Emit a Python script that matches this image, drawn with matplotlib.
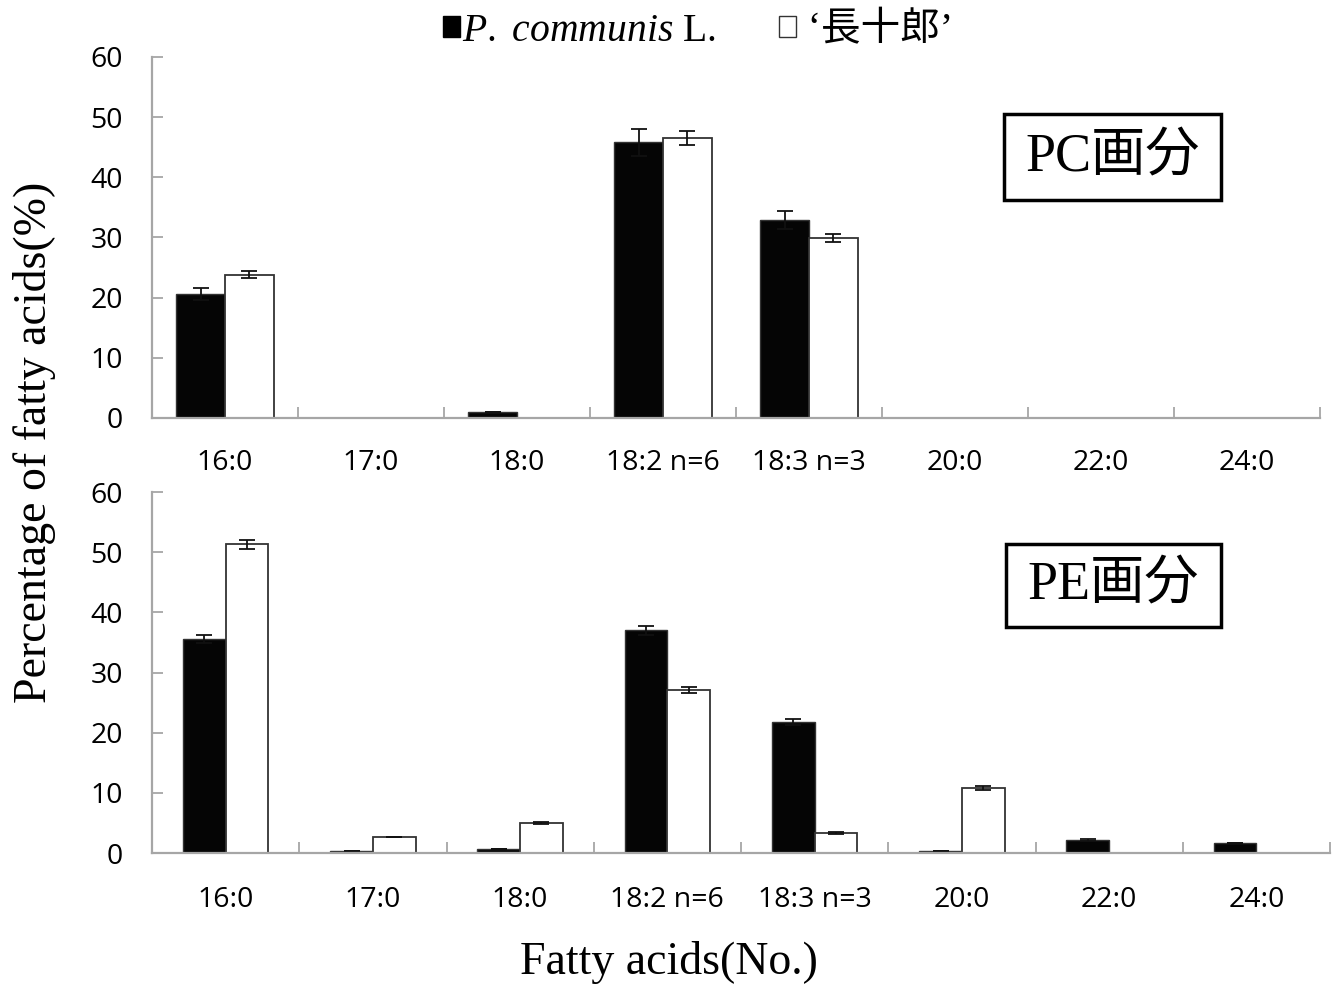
import numpy as np
import matplotlib.pyplot as plt
from matplotlib.patches import Patch, Rectangle

plt.rcParams['mathtext.fontset'] = 'custom'
plt.rcParams['mathtext.it'] = 'Liberation Serif:italic'
plt.rcParams['mathtext.rm'] = 'Liberation Serif'

# Data
acids = ['16:0', '17:0', '18:0', '18:2 n=6', '18:3 n=3', '20:0', '22:0', '24:0']

pc_communis = [20.6, 0, 1.0, 45.8, 32.9, 0, 0, 0]
pc_communis_err = [1.0, 0, 0, 2.2, 1.5, 0, 0, 0]
pc_chojuro = [23.8, 0, 0, 46.5, 29.9, 0, 0, 0]
pc_chojuro_err = [0.6, 0, 0, 1.2, 0.7, 0, 0, 0]

pe_communis = [35.6, 0.3, 0.7, 37.0, 21.8, 0.3, 2.2, 1.7]
pe_communis_err = [0.7, 0, 0, 0.8, 0.5, 0, 0.2, 0]
pe_chojuro = [51.3, 2.7, 5.0, 27.1, 3.3, 10.8, 0, 0]
pe_chojuro_err = [0.7, 0, 0.1, 0.5, 0.2, 0.3, 0, 0]

W, H = 1339, 989
fig = plt.figure(figsize=(W / 100, H / 100), dpi=100)

serif = ['Liberation Serif', 'Noto Sans CJK JP', 'DejaVu Sans']
sans = 'Open Sans'
spine_c = '#a6a6a6'


def px_axes(left, right, top, bottom):
    return fig.add_axes([left / W, 1 - bottom / H, (right - left) / W, (bottom - top) / H])


def panel(ax, black, black_err, white, white_err, width, pad):
    x = np.arange(len(acids)) + 0.5
    ax.bar(x - width / 2, black, width, color='#050505', edgecolor='#333333', linewidth=1.0,
           yerr=black_err, error_kw=dict(ecolor='#111111', capsize=5.5, elinewidth=1.3, capthick=1.3))
    ax.bar(x + width / 2, white, width, color='white', edgecolor='#333333', linewidth=1.3,
           yerr=white_err, error_kw=dict(ecolor='#111111', capsize=5.5, elinewidth=1.3, capthick=1.3))
    ax.set_xlim(0, len(acids))
    ax.set_ylim(0, 60)
    ax.set_yticks(range(0, 61, 10))
    ax.set_xticks(x)
    ax.set_xticklabels(acids, fontfamily=sans, fontsize=20.5)
    ax.set_xticks(np.arange(len(acids) + 1), minor=True)
    ax.tick_params(axis='x', which='major', length=0, pad=pad)
    ax.tick_params(axis='x', which='minor', direction='in', length=8, width=1.3, color=spine_c)
    ax.tick_params(axis='y', direction='in', length=8, width=1.3, color=spine_c, pad=21,
                   labelsize=20.5)
    for lab in ax.get_yticklabels():
        lab.set_fontfamily(sans)
    for s in ['top', 'right']:
        ax.spines[s].set_visible(False)
    for s in ['left', 'bottom']:
        ax.spines[s].set_color(spine_c)
        ax.spines[s].set_linewidth(1.6)


ax1 = px_axes(152, 1320, 57, 418)
panel(ax1, pc_communis, pc_communis_err, pc_chojuro, pc_chojuro_err, 0.335, 22.5)
ax2 = px_axes(152, 1330, 492, 853)
panel(ax2, pe_communis, pe_communis_err, pe_chojuro, pe_chojuro_err, 0.29, 24)

# Panel labels in boxes
for (x0, y0, x1, y1, txt) in [(1004, 114, 1221, 200, 'PC画分'), (1006, 544, 1221, 627, 'PE画分')]:
    fig.patches.append(Rectangle((x0 / W, 1 - y1 / H), (x1 - x0) / W, (y1 - y0) / H,
                                 transform=fig.transFigure, fill=False, edgecolor='black',
                                 linewidth=2.5))
    fig.text((x0 + x1) / 2 / W, 1 - (y0 + y1 + 2) / 2 / H, txt, family=serif, fontsize=39,
             ha='center', va='center')

fig.text(35 / W, 1 - 442 / H, 'Percentage of fatty acids(%)', family=serif, fontsize=33,
         rotation=90, ha='center', va='center')
fig.text(669 / W, 1 - 962 / H, 'Fatty acids(No.)', family=serif, fontsize=33,
         ha='center', va='center')

handles = [Patch(facecolor='black', edgecolor='black'),
           Patch(facecolor='white', edgecolor='#333333', linewidth=1)]
labels = [r'$\it{P.}$ $\it{communis}$ L.', ' \u2018長十郎\u2019']
fig.legend(handles, labels, loc='center', bbox_to_anchor=(698 / W, 1 - 31 / H), ncol=2,
           frameon=False, prop={'family': serif, 'size': 28.5}, handlelength=0.42,
           handleheight=0.42, handletextpad=0.05, columnspacing=1.6)

fig.savefig('out.png', dpi=100)
